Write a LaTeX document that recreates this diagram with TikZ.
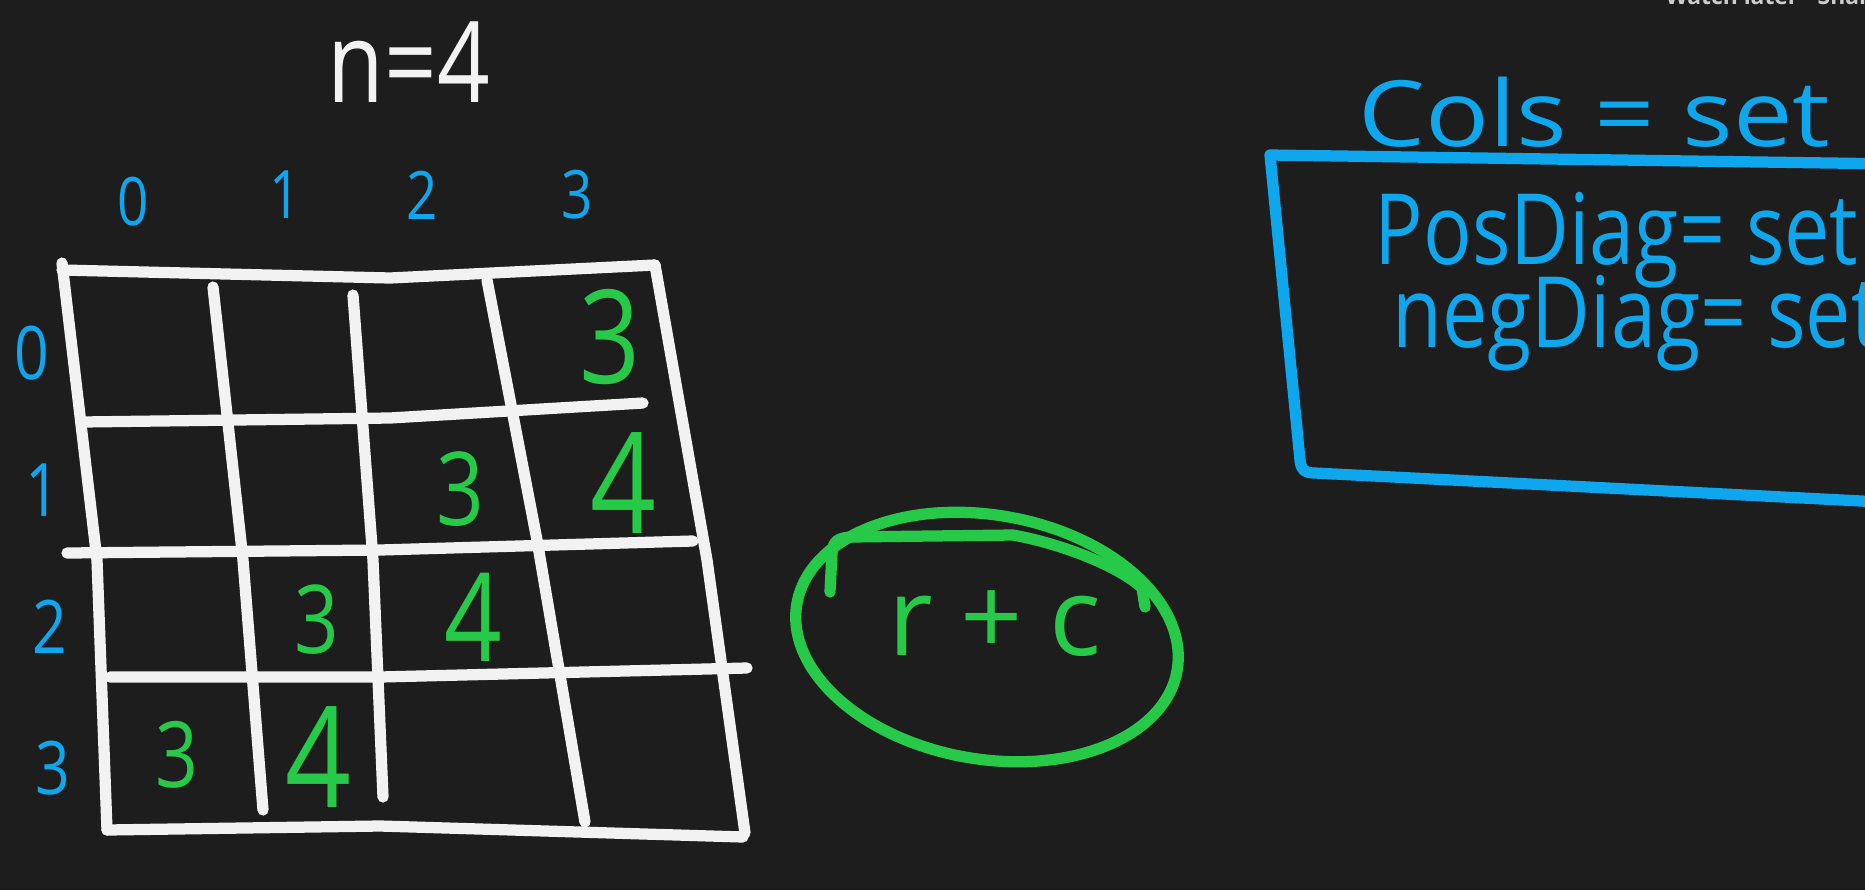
\documentclass[tikz,border=0pt]{standalone}
\usepackage{fontspec}
\setmainfont{Open Sans}
\newfontfamily\handfont[FakeStretch=0.82]{Open Sans}
\newfontfamily\widehand[FakeStretch=1.16]{Open Sans}
\usetikzlibrary{calc}
\definecolor{board}{RGB}{29,29,29}
\definecolor{chalk}{RGB}{242,242,242}
\definecolor{skyblue}{RGB}{14,166,236}
\definecolor{marker}{RGB}{38,202,72}
\definecolor{uigray}{RGB}{205,205,205}
\def\handsize#1{\fontsize{#1}{#1}\selectfont}

\tikzset{
	gridline/.style={draw=chalk, line width=3.2pt, line cap=round, line join=round},
	boxline/.style={draw=skyblue, line width=3.2pt, line cap=round, line join=round},
	ringline/.style={draw=marker, line width=3.2pt, line cap=round, line join=round},
	axislabel/.style={text=skyblue, inner sep=0pt, font=\handfont\handsize{19}},
	cellnum/.style={text=marker, inner sep=0pt},
	settext/.style={text=skyblue, inner sep=0pt, anchor=base west},
}

\begin{document}
\begin{tikzpicture}[x=0.01cm, y=-0.01cm]
	%%%%% START %%%%%
	
	\fill[board] (0,0) rectangle (1865,890);
	\useasboundingbox (0,0) rectangle (1865,890);
	
	\node[text=uigray, inner sep=0pt, anchor=base west, font=\bfseries\handsize{6.5}] (watchlater) at (1665,4) {Watch later};
	\node[text=uigray, inner sep=0pt, anchor=base west, font=\bfseries\handsize{6.5}] (share) at (1817,4) {Share};
	
	\node[text=chalk, inner sep=0pt, anchor=base, font=\handfont\handsize{32}] (nsize) at (409,102) {n=4};
	
	% column and row numbers
	\node[axislabel] (col0) at (133,202) {0};
	\node[axislabel] (col1) at (285,195) {1};
	\node[axislabel] (col2) at (422,195) {2};
	\node[axislabel] (col3) at (577,195) {3};
	
	\node[axislabel, font=\handfont\handsize{21}] (row0) at (32,353) {0};
	\node[axislabel, font=\handfont\handsize{21}] (row1) at (43,490) {1};
	\node[axislabel, font=\handfont\handsize{21}] (row2) at (50,627) {2};
	\node[axislabel, font=\handfont\handsize{21}] (row3) at (53,768) {3};
	
	% board
	\draw[gridline] (62,270) -- (390,278) -- (655,265);
	\draw[gridline] (62,263) -- (97,560) -- (107,830);
	\draw[gridline] (107,830) -- (380,826) -- (743,837);
	\draw[gridline] (655,265) -- (707,560) -- (745,833);
	
	\draw[gridline] (82,422) -- (390,418) -- (643,403);
	\draw[gridline] (67,553) -- (380,550) -- (693,541);
	\draw[gridline] (110,677) -- (380,677) -- (747,668);
	
	\draw[gridline] (213,287) -- (243,560) -- (263,810);
	\draw[gridline] (353,295) -- (373,560) -- (383,797);
	\draw[gridline] (487,280) -- (537,540) -- (585,822);
	
	% r+c values
	\node[cellnum, font=\handfont\handsize{37}] (cell03) at (610,337) {3};
	\node[cellnum, font=\handfont\handsize{29}] (cell12) at (460,489) {3};
	\node[cellnum, font=\handfont\handsize{40}] (cell13) at (623,483) {4};
	\node[cellnum, font=\handfont\handsize{27}] (cell21) at (317,620) {3};
	\node[cellnum, font=\handfont\handsize{35}] (cell22) at (473,617) {4};
	\node[cellnum, font=\handfont\handsize{26}] (cell30) at (177,755) {3};
	\node[cellnum, font=\handfont\handsize{40}] (cell31) at (318,757) {4};
	
	% circled key
	\draw[ringline, rotate around={-10:(987,637)}] (987,637) ellipse [x radius=193, y radius=122];
	\draw[ringline] (830,592) -- (832,553) .. controls (833,541) and (838,538) .. (850,537) -- (1013,535)
		.. controls (1063,544) and (1120,567) .. (1142,588) -- (1145,607);
	\node[text=marker, inner sep=0pt, anchor=base, font=\handsize{31}] (rplusc) at (995,655) {r\hspace{0.25em}+\hspace{0.25em}c};
	
	% sets
	\node[settext, font=\widehand\handsize{26}] (cols) at (1358,146) {Cols = set};
	\node[settext, font=\handfont\handsize{28}] (posdiag) at (1374,264) {PosDiag= set};
	\node[settext, font=\handfont\handsize{28}] (negdiag) at (1392,347) {negDiag= set};
	
	\draw[boxline] (1900,164) -- (1270,155) -- (1300,460) .. controls (1301,470) and (1305,473) .. (1315,473) -- (1900,503);
	
	%%%%% END %%%%%
\end{tikzpicture}
\end{document}
